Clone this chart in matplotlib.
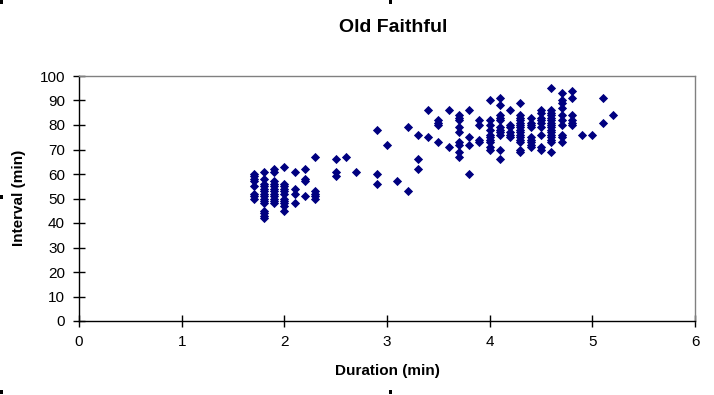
import numpy as np
import matplotlib
matplotlib.use("Agg")
import matplotlib.pyplot as plt
from matplotlib.patches import Rectangle

# Duration columns (min) and the intervals (min) observed at each duration
durations = [1.7, 1.8, 1.9, 2.0, 2.1, 2.2, 2.3, 2.5, 2.6, 2.7, 2.9, 3.0, 3.1, 3.2,
             3.3, 3.4, 3.5, 3.6, 3.7, 3.8, 3.9, 4.0, 4.1, 4.2, 4.3, 4.4, 4.5,
             4.6, 4.7, 4.8, 4.9, 5.0, 5.1, 5.2]
intervals = [
    [60, 59, 58, 57, 55, 52, 51, 50],
    [61, 58, 56, 55, 54, 53, 52, 51, 50, 49, 48, 45, 44, 43, 42],
    [62, 61, 57, 56, 55, 54, 53, 52, 51, 50, 49, 48],
    [63, 56, 55, 54, 53, 52, 50, 49, 48, 47, 45],
    [61, 54, 52, 48],
    [62, 58, 57, 51],
    [67, 53, 52, 51, 50],
    [66, 61, 59],
    [67],
    [61],
    [78, 60, 56],
    [72],
    [57],
    [79, 53],
    [76, 66, 62],
    [86, 75],
    [82, 81, 80, 73],
    [86, 71],
    [84, 83, 82, 79, 77, 73, 72, 69, 67],
    [86, 75, 72, 60],
    [82, 80, 74, 73],
    [90, 82, 80, 78, 76, 75, 74, 73, 71, 70],
    [91, 88, 84, 83, 82, 79, 78, 77, 76, 70, 66],
    [86, 80, 79, 77, 76, 75],
    [89, 84, 83, 82, 81, 80, 79, 78, 77, 76, 75, 74, 73, 70, 69],
    [83, 81, 80, 79, 75, 74, 73, 72, 71],
    [86, 85, 83, 82, 81, 79, 76, 71, 70],
    [95, 86, 85, 84, 83, 82, 81, 80, 79, 78, 77, 76, 75, 74, 73, 69],
    [93, 90, 89, 87, 84, 82, 80, 76, 75, 73],
    [94, 91, 84, 82, 81, 80],
    [76],
    [76],
    [91, 81],
    [84],
]
x_ticks = [0, 1, 2, 3, 4, 5, 6]
y_ticks = [0, 10, 20, 30, 40, 50, 60, 70, 80, 90, 100]

xs = np.concatenate([[d] * len(v) for d, v in zip(durations, intervals)])
ys = np.concatenate([np.array(v, dtype=float) for v in intervals])

W, H = 714, 395
fig = plt.figure(figsize=(W / 100, H / 100), dpi=100)
fig.patch.set_facecolor("white")
L, R, T, B = 79, 695, 76, 321
ax = fig.add_axes([L / W, 1 - B / H, (R - L) / W, (B - T) / H])

font = "Liberation Sans"
ax.scatter(xs, ys, marker="D", s=22, color="#000080", linewidths=0, zorder=3)

ax.set_xlim(0, 6)
ax.set_ylim(0, 100)
ax.set_xticks(x_ticks)
ax.set_yticks(y_ticks)
ax.set_xticklabels([str(t) for t in x_ticks], fontname=font, fontsize=11)
ax.set_yticklabels([str(t) for t in y_ticks], fontname=font, fontsize=11)
ax.tick_params(direction="inout", length=8, width=1, color="black", pad=6)

for s in ["left", "bottom"]:
    ax.spines[s].set_color("black")
    ax.spines[s].set_linewidth(1)
for s in ["top", "right"]:
    ax.spines[s].set_color("#808080")
    ax.spines[s].set_linewidth(1)

fig.text(393 / W, 1 - 27 / H, "Old Faithful", ha="center", va="center",
         fontname=font, fontsize=14, fontweight="bold")
fig.text(387 / W, 1 - 371 / H, "Duration (min)", ha="center", va="center",
         fontname=font, fontsize=11, fontweight="bold")
fig.text(19 / W, 1 - 198 / H, "Interval (min)", ha="center", va="center",
         rotation=90, fontname=font, fontsize=11, fontweight="bold")

# Excel selection handles
for (hx, hy) in [(0, 0), (389, 0), (0, 195), (0, 390), (389, 390)]:
    fig.add_artist(Rectangle((hx / W, 1 - (hy + 4) / H), 3 / W, 4 / H,
                             transform=fig.transFigure, color="black", lw=0))

fig.savefig("out.png", dpi=100, facecolor="white")
